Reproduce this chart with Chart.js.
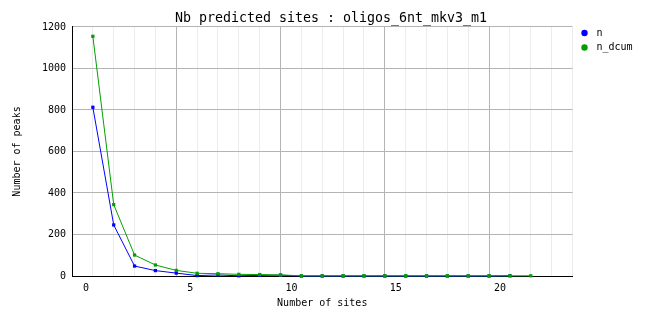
<!DOCTYPE html>
<html><head><meta charset="utf-8">
<script src="https://cdn.jsdelivr.net/npm/chart.js@4/dist/chart.umd.min.js"></script>
<style>html,body{margin:0;padding:0;background:#fff}#wrap{width:662px;height:328px}</style>
</head><body><div id="wrap"><canvas id="c" width="662" height="328"></canvas></div>
<script>
const chartTitle = 'Nb predicted sites : oligos_6nt_mkv3_m1';
const xAxisTitle = 'Number of sites';
const yAxisTitle = 'Number of peaks';
const seriesNames = ['n', 'n_dcum'];
const sites = [0,1,2,3,4,5,6,7,8,9,10,11,12,13,14,15,16,17,18,19,20,21];
const nValues = [813,246,48,26,14,2,5,1,3,4,0,0,0,0,0,0,0,0,0,0,1];
const nDcumValues = [1155,344,101,53,27,13,11,8,7,5,1,1,1,1,1,1,1,1,1,1,1,1];
const xTickLabels = ['0','5','10','15','20'];
const yTickValues = [0,200,400,600,800,1000,1200];

const FONT = '"DejaVu Sans Mono", "Liberation Mono", monospace';
Chart.defaults.color = '#000';
Chart.defaults.font.family = FONT;

const toPoints = vals => vals.map((v, i) => ({x: sites[i], y: v}));

const legendPlugin = {
  id: 'sideLegend',
  afterDraw(chart) {
    const ctx = chart.ctx;
    const x0 = chart.chartArea.right + 12;
    ctx.save();
    chart.data.datasets.forEach((ds, i) => {
      const y = 33 + i * 14.5;
      ctx.fillStyle = ds.borderColor;
      ctx.beginPath();
      ctx.arc(x0, y, 3.2, 0, Math.PI * 2);
      ctx.fill();
      ctx.fillStyle = '#000';
      ctx.font = '10px ' + FONT;
      ctx.textBaseline = 'middle';
      ctx.textAlign = 'left';
      ctx.fillText(ds.label, x0 + 12, y);
    });
    ctx.restore();
  }
};

new Chart(document.getElementById('c'), {
  type: 'line',
  data: {
    datasets: [
      {label: seriesNames[0], data: toPoints(nValues), borderColor: '#0000ff', backgroundColor: '#0000ff',
       borderWidth: 1, pointStyle: 'rect', pointRadius: 2.3, pointBorderWidth: 0, order: 1, clip: false, tension: 0},
      {label: seriesNames[1], data: toPoints(nDcumValues), borderColor: '#00a000', backgroundColor: '#00a000',
       borderWidth: 1, pointStyle: 'rect', pointRadius: 2.3, pointBorderWidth: 0, order: 0, clip: false, tension: 0}
    ]
  },
  options: {
    responsive: false,
    devicePixelRatio: 1,
    animation: false,
    layout: {padding: 0},
    plugins: {
      legend: {display: false},
      tooltip: {enabled: false},
      title: {display: true, text: chartTitle, color: '#000',
        font: {family: FONT, size: 13.3, weight: 'normal', lineHeight: 1.2},
        padding: {top: 11, bottom: 0}}
    },
    scales: {
      x: {
        type: 'linear', min: -1, max: 23,
        afterFit: s => { s.height = 52; },
        border: {display: true, color: '#000', width: 1},
        grid: {drawTicks: false, lineWidth: 1,
          color: c => (c.tick && ((c.tick.value + 1) % 5 === 0)) ? '#b4b4b4' : '#ececec'},
        ticks: {stepSize: 1, autoSkip: false, maxRotation: 0, minRotation: 0, align: 'end', labelOffset: 17, padding: 6,
          font: {family: FONT, size: 10},
          callback: v => { const k = (v + 1) / 5; return Number.isInteger(k) && xTickLabels[k] !== undefined ? xTickLabels[k] : ''; }},
        title: {display: true, text: xAxisTitle, color: '#000', font: {family: FONT, size: 10, lineHeight: 1.2}, padding: {top: 19, bottom: 19}}
      },
      y: {
        min: 0, max: 1200,
        afterFit: s => { s.width = 72; },
        afterBuildTicks: s => { s.ticks = yTickValues.map(v => ({value: v})); },
        border: {display: true, color: '#000', width: 1},
        grid: {drawTicks: false, color: '#b4b4b4', lineWidth: 1},
        ticks: {padding: 6, font: {family: FONT, size: 10}, callback: v => String(v)},
        title: {display: true, text: yAxisTitle, color: '#000', font: {family: FONT, size: 10, lineHeight: 1.2}, padding: {top: 11, bottom: 11}}
      },
      legendSpace: {
        type: 'linear', position: 'right', display: true,
        afterFit: s => { s.width = 89.5; },
        border: {display: false},
        grid: {display: false, drawOnChartArea: false},
        ticks: {display: false}
      }
    }
  },
  plugins: [legendPlugin]
});
</script>
</body></html>
